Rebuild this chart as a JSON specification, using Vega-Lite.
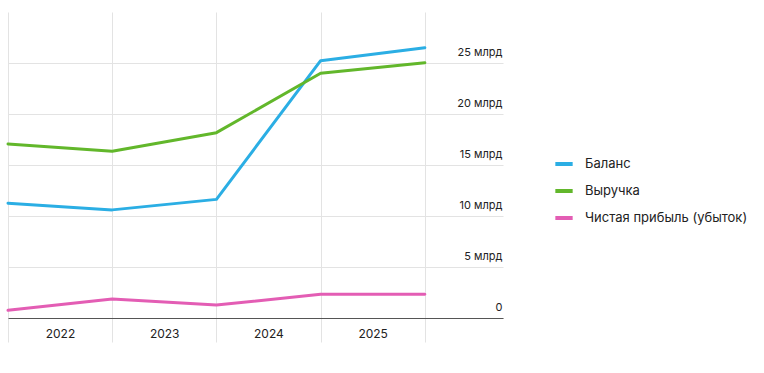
{
  "$schema": "https://vega.github.io/schema/vega-lite/v6.json",
  "autosize": {"type": "none"},
  "width": 495,
  "height": 306,
  "padding": {"left": 8, "top": 12, "right": 261, "bottom": 55},
  "background": "white",
  "config": {
    "font": "Inter",
    "view": {"stroke": null}
  },
  "data": {
    "values": [
      {"t": 2022, "series": "Баланс", "v": 11.25},
      {"t": 2023, "series": "Баланс", "v": 10.6},
      {"t": 2024, "series": "Баланс", "v": 11.63},
      {"t": 2025, "series": "Баланс", "v": 25.23},
      {"t": 2026, "series": "Баланс", "v": 26.5},
      {"t": 2022, "series": "Выручка", "v": 17.06},
      {"t": 2023, "series": "Выручка", "v": 16.34},
      {"t": 2024, "series": "Выручка", "v": 18.17},
      {"t": 2025, "series": "Выручка", "v": 23.99},
      {"t": 2026, "series": "Выручка", "v": 25.03},
      {"t": 2022, "series": "Чистая прибыль (убыток)", "v": 0.75},
      {"t": 2023, "series": "Чистая прибыль (убыток)", "v": 1.86},
      {"t": 2024, "series": "Чистая прибыль (убыток)", "v": 1.27},
      {"t": 2025, "series": "Чистая прибыль (убыток)", "v": 2.32},
      {"t": 2026, "series": "Чистая прибыль (убыток)", "v": 2.33}
    ]
  },
  "mark": {"type": "line", "strokeWidth": 3, "strokeCap": "round", "strokeJoin": "round", "clip": false},
  "encoding": {
    "x": {
      "field": "t",
      "type": "quantitative",
      "scale": {"domain": [2022, 2026.75], "nice": false, "zero": false},
      "axis": {
        "title": null,
        "values": [2022, 2023, 2024, 2025, 2026],
        "labelExpr": "datum.value >= 2026 ? '' : format(datum.value, 'd')",
        "labelOffset": 52,
        "labelFontSize": 12,
        "labelColor": "#222222",
        "labelPadding": -14,
        "labelFlush": false,
        "labelOverlap": false,
        "ticks": true,
        "tickSize": 24,
        "tickColor": "#e3e3e3",
        "tickWidth": 1,
        "grid": true,
        "gridColor": "#e3e3e3",
        "gridWidth": 1,
        "domain": true,
        "domainColor": "#555555",
        "domainWidth": 1
      }
    },
    "y": {
      "field": "v",
      "type": "quantitative",
      "scale": {"domain": [0, 30], "nice": false},
      "axis": {
        "title": null,
        "orient": "right",
        "values": [0, 5, 10, 15, 20, 25],
        "labelExpr": "datum.value == 0 ? '0' : datum.value + ' млрд'",
        "labelAlign": "right",
        "labelBaseline": "bottom",
        "labelOffset": -6,
        "labelPadding": -1,
        "labelFontSize": 11,
        "labelColor": "#222222",
        "ticks": false,
        "domain": false,
        "grid": true,
        "gridColor": "#e3e3e3",
        "gridWidth": 1
      }
    },
    "color": {
      "field": "series",
      "type": "nominal",
      "scale": {
        "domain": ["Баланс", "Выручка", "Чистая прибыль (убыток)"],
        "range": ["#2baee4", "#62b72b", "#e35db4"]
      },
      "legend": {
        "title": null,
        "orient": "none",
        "legendX": 545,
        "legendY": 141,
        "symbolType": "stroke",
        "symbolStrokeWidth": 4,
        "symbolSize": 300,
        "labelFontSize": 13,
        "labelColor": "#222222",
        "labelOffset": 10,
        "labelLimit": 300,
        "rowPadding": 8
      }
    }
  }
}
